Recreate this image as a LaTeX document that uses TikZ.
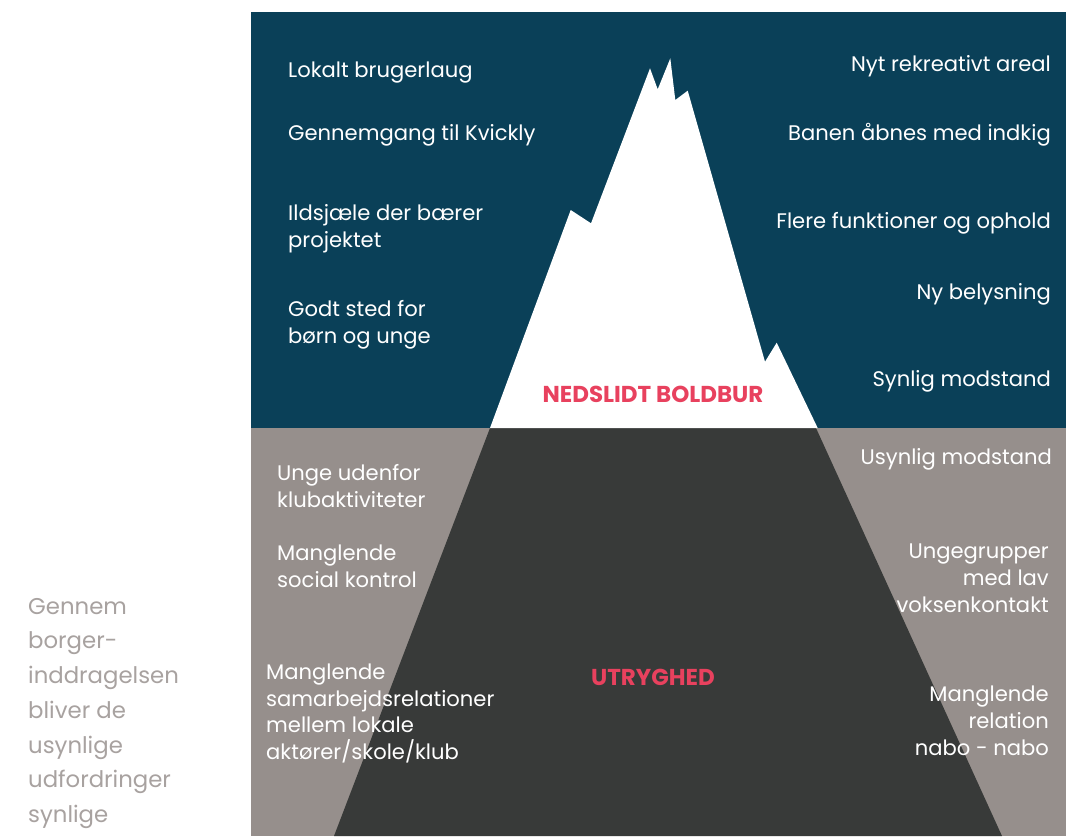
\documentclass[tikz,border=0pt]{standalone}
\usepackage{fontspec}
\setmainfont{Poppins}
\definecolor{teal}{HTML}{0A4058}
\definecolor{stone}{HTML}{968F8C}
\definecolor{deep}{HTML}{383A39}
\definecolor{accent}{HTML}{E8415E}
\definecolor{side}{HTML}{A8A2A0}
\begin{document}
\begin{tikzpicture}[x=1pt,y=-1pt,
  lbl/.style={text=white,font=\fontsize{21.1}{26.8}\selectfont,inner sep=0pt},
  lft/.style={lbl,anchor=west,align=left},
  rgt/.style={lbl,anchor=east,align=right},
  title/.style={text=accent,font=\fontsize{23}{26}\selectfont\bfseries,inner sep=0pt},
  note/.style={text=side,font=\fontsize{22.8}{34.7}\selectfont,inner sep=0pt,anchor=north west,align=left}]
\useasboundingbox (0,0) rectangle (1066,836);
\fill[white] (0,0) rectangle (1066,836);
% sky and sea
\fill[teal] (251,12) rectangle (1066,428);
\fill[stone] (251,428) rectangle (1066,836);
% underwater part
\fill[deep] (490,428) -- (816,428) -- (1002,836) -- (334,836) -- cycle;
% tip
\fill[white] (490,428) -- (570.7,210) -- (591,223.3) -- (650,68.3) -- (657.7,89.3)
  -- (670.3,58.3) -- (675.3,100) -- (687.7,90.7) -- (765,361.7) -- (776.7,342.7)
  -- (817.7,428) -- cycle;
% upper left
\node[lft] (a1) at (288,73) {Lokalt brugerlaug};
\node[lft] (a2) at (288,135) {Gennemgang til Kvickly};
\node[lft] (a3) at (288,228.5) {Ildsjæle der bærer\\projektet};
\node[lft] (a4) at (288,325) {Godt sted for\\børn og unge};
% upper right
\node[rgt] (b1) at (1051,66) {Nyt rekreativt areal};
\node[rgt] (b2) at (1051,135) {Banen åbnes med indkig};
\node[rgt] (b3) at (1051,223) {Flere funktioner og ophold};
\node[rgt] (b4) at (1051,294) {Ny belysning};
\node[rgt] (b5) at (1051,381) {Synlig modstand};
\node[title] (t1) at (653,394) {NEDSLIDT BOLDBUR};
% lower left
\node[lft] (c1) at (277,486) {Unge udenfor\\klubaktiviteter};
\node[lft] (c2) at (277,566.5) {Manglende\\social kontrol};
\node[lft] (c3) at (266,713.5) {Manglende\\samarbejdsrelationer\\mellem lokale\\aktører/skole/klub};
% lower right
\node[rgt] (d1) at (1052,459) {Usynlig modstand};
\node[rgt] (d2) at (1049,578.5) {Ungegrupper\\med lav\\voksenkontakt};
\node[rgt] (d3) at (1049,720.5) {Manglende\\relation\\nabo - nabo};
\node[title] (t2) at (653,677) {UTRYGHED};
% side note
\node[note] (n) at (28,598) {Gennem\\borger-\\inddragelsen\\bliver de\\usynlige\\udfordringer\\synlige};
\end{tikzpicture}
\end{document}
